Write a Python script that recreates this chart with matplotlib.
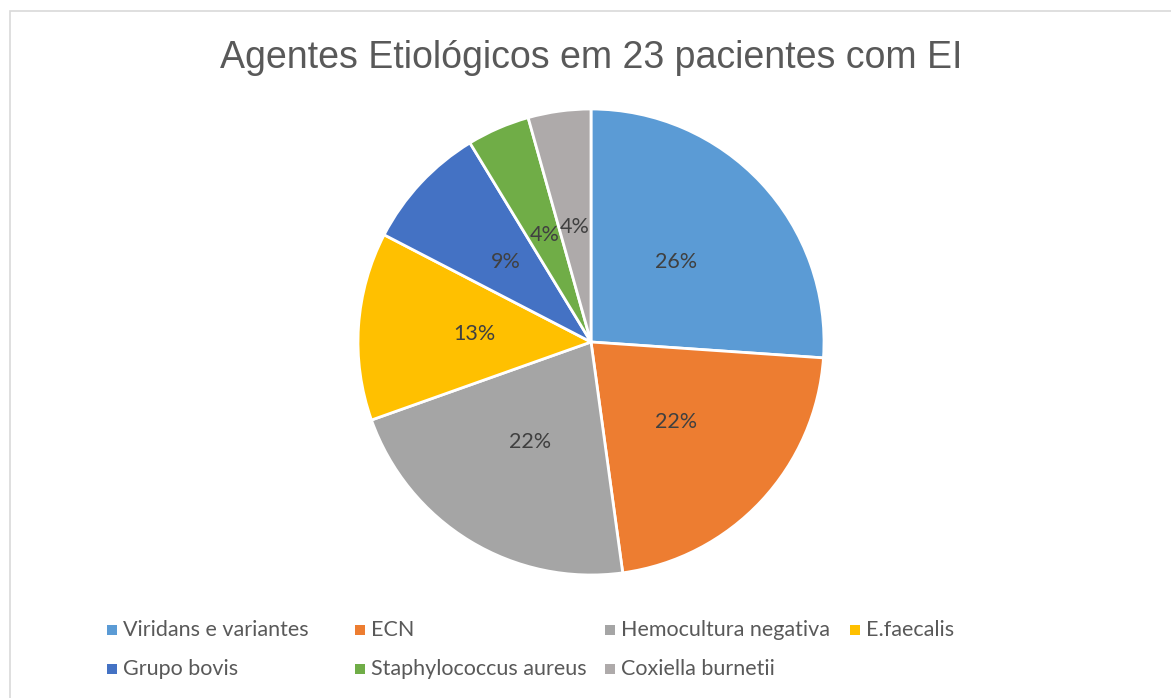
import matplotlib.pyplot as plt
from matplotlib.patches import Rectangle

# data: number of patients per agent (23 total)
labels = ['Viridans e variantes', 'ECN', 'Hemocultura negativa', 'E.faecalis',
          'Grupo bovis', 'Staphylococcus aureus', 'Coxiella burnetii']
counts = [6, 5, 5, 3, 2, 1, 1]
colors = ['#5B9BD5', '#ED7D31', '#A5A5A5', '#FFC000', '#4472C4', '#70AD47', '#AEAAAA']

title = 'Agentes Etiológicos em 23 pacientes com EI'

W, H = 1171, 698
fig = plt.figure(figsize=(W / 100, H / 100), dpi=100)
fig.patch.set_facecolor('white')

# chart-area frame
fig.patches.append(Rectangle((10 / W, -0.05), 1.2, 1 - 11 / H + 0.05,
                             transform=fig.transFigure, fill=False,
                             edgecolor='#D9D9D9', linewidth=1.2))

# pie axes centred at (591, 342) px, radius 233 px
cx, cy, r = 591, 342, 233
ax = fig.add_axes([(cx - r) / W, (H - cy - r) / H, 2 * r / W, 2 * r / H])
wedges, texts, autotexts = ax.pie(
    counts, colors=colors, startangle=90, counterclock=False,
    autopct='%.0f%%', pctdistance=0.5,
    wedgeprops=dict(edgecolor='white', linewidth=2),
    textprops=dict(color='#404040', fontsize=15.5, family='Lato'))
ax.set_xlim(-1, 1)
ax.set_ylim(-1, 1)
ax.set_aspect('equal')
ax.axis('off')

fig.text(cx / W, 1 - 58 / H, title, ha='center', va='center',
         fontsize=27, color='#595959', family='Liberation Sans')

# legend laid out like the Excel one (row-major flow)
marker_x = [112, 360, 610, 855, 112, 360, 610]
row_y = [630, 630, 630, 630, 669, 669, 669]
for lab, col, mx, my in zip(labels, colors, marker_x, row_y):
    s = 10
    fig.patches.append(Rectangle(((mx - s / 2) / W, (H - my - s / 2) / H), s / W, s / H,
                                 transform=fig.transFigure, facecolor=col,
                                 edgecolor='none'))
    fig.text((mx + 11) / W, 1 - my / H, lab, ha='left', va='center',
             fontsize=15.5, color='#595959', family='Lato')

fig.savefig('out.png', dpi=100)
